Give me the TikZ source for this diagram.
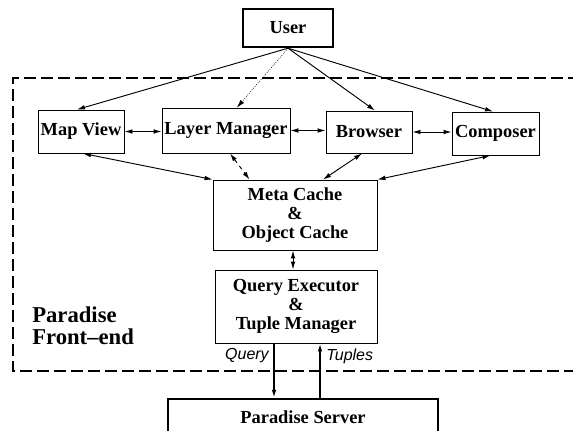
\documentclass[tikz,border=0pt]{standalone}
\usepackage{fontspec}
\setmainfont{Liberation Serif}
\setsansfont{Liberation Sans}
\usetikzlibrary{arrows.meta,calc}

\begin{document}
\begin{tikzpicture}[x=0.75pt, y=-0.75pt,
  box/.style={draw, line width=0.7pt, inner sep=0pt, align=center,
    font=\fontsize{13.8}{14.3}\selectfont\bfseries},
  heavybox/.style={box, line width=1.8pt},
  tip/.style={-{Latex[length=6pt,width=3.5pt]}, line width=0.7pt},
  both/.style={{Latex[length=6pt,width=3.5pt]}-{Latex[length=6pt,width=3.5pt]}, line width=0.7pt},
  lbl/.style={inner sep=0pt, font=\fontsize{12}{12}\selectfont\sffamily\itshape}]

\useasboundingbox (0,0) rectangle (573,430);

% front-end frame
\draw[line width=1.6pt, dash pattern=on 9pt off 3.75pt] (580,78) -- (13,78) -- (13,371) -- (580,371);

\node[heavybox, minimum width=67.5pt, minimum height=28.5pt] (user) at (288,28) {User};

\node[box, minimum width=64.5pt, minimum height=32.25pt] (mapview) at (81,131.5) {Map View};
\node[box, minimum width=96pt, minimum height=33.75pt] (layermgr) at (226,130.5) {Layer Manager};
\node[box, minimum width=64.5pt, minimum height=31.5pt] (browser) at (369,132) {Browser};
\node[box, minimum width=65.25pt, minimum height=32.25pt] (composer) at (495.5,133.5) {Composer};

\node[box, minimum width=123pt, minimum height=52.5pt] (meta) at (295,215) {Meta Cache\\\&\\Object Cache};
\node[box, minimum width=121.5pt, minimum height=54.75pt] (qexec) at (296,306.5) {Query Executor\\\&\\Tuple Manager};

\node[heavybox, minimum width=202.5pt, minimum height=27.75pt] (server) at (303,417.5) {Paradise Server};

\node[anchor=north west, align=left, inner sep=0pt,
  font=\fontsize{17}{16.5}\selectfont\bfseries] (frontend) at (32,306) {Paradise\\Front--end};

% user to the tools
\draw[tip] (user.south) -- ($(mapview.north)+(-4,0)$);
\draw[tip, densely dotted, line width=0.4pt] (user.south) -- ($(layermgr.north)+(11,0)$);
\draw[tip] (user.south) -- ($(browser.north)+(6,0)$);
\draw[tip] (user.south) -- ($(composer.north)+(-2.5,0)$);

\draw[both] (mapview.east) -- (mapview.east -| layermgr.west);
\draw[both] (layermgr.east) -- (layermgr.east -| browser.west);
\draw[both] (browser.east) -- (browser.east -| composer.west);

% tools to the cache
\draw[both] ($(mapview.south)+(2,0)$) -- (meta.north west);
\draw[both, dashed] ($(layermgr.south)+(4,0)$) -- ($(meta.north west)+(37,0)$);
\draw[both] ($(browser.south)+(-7,0)$) -- ($(meta.north)+(28,0)$);
\draw[both] ($(composer.south)+(-5,0)$) -- (meta.north east);

\draw[both] ($(meta.south)+(-2,0)$) -- ($(qexec.north)+(-3,0)$);

% to and from the server
\draw[tip, line width=1.3pt] ($(qexec.south)+(-22,0)$) -- ($(server.north)+(-29,0)$);
\draw[tip, line width=1.3pt] ($(server.north)+(17,0)$) -- ($(qexec.south)+(24,0)$);
\node[lbl, anchor=east] (query) at (269,356) {Query};
\node[lbl, anchor=west] (tuples) at (326,356) {Tuples};

\end{tikzpicture}
\end{document}
